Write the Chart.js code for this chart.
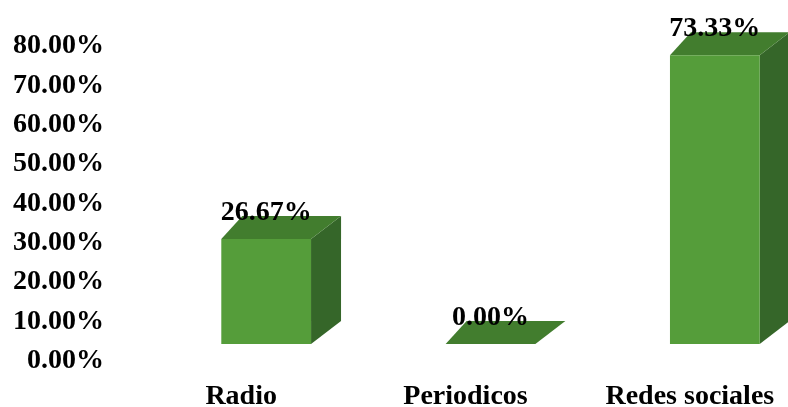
<!DOCTYPE html>
<html>
<head>
<meta charset="utf-8">
<script src="https://cdn.jsdelivr.net/npm/chart.js@4.4.0/dist/chart.umd.min.js"></script>
<style>
	html, body { margin: 0; padding: 0; background: #ffffff; }
	#wrap { width: 788px; height: 407px; }
</style>
</head>
<body>
<div id="wrap"><canvas id="graph1" width="788" height="407"></canvas></div>
<script>
var categories = ["Radio", "Periodicos", "Redes sociales"];
var porcentajes = [26.67, 0.00, 73.33];
var yTicks = [0, 10, 20, 30, 40, 50, 60, 70, 80];

var fuente = "'Liberation Serif', 'Times New Roman', serif";

// colores de las caras de la barra 3D
var frente = '#559d3a';
var arriba = '#427d2e';
var lado = '#356629';

// profundidad de la barra (el fondo se abre un poco hacia la derecha)
var profIzq = 21;
var profDer = 30;
var profY = 23;
var bajada = 17;

var barras3d = {
	id: 'barras3d',
	afterDatasetsDraw: function(chart) {
		var ctx = chart.ctx;
		var meta = chart.getDatasetMeta(0);
		var yScale = chart.scales.y;
		var shift = 39;

		meta.data.forEach(function(bar, i) {
			var v = porcentajes[i];
			var cx = bar.x + shift;
			var w = bar.width;
			var x0 = cx - w / 2;
			var x1 = cx + w / 2;
			var yb = yScale.getPixelForValue(0) - bajada;
			var yt = yScale.getPixelForValue(v) - bajada;

			ctx.save();
			// cara lateral
			ctx.fillStyle = lado;
			ctx.beginPath();
			ctx.moveTo(x1, yb);
			ctx.lineTo(x1 + profDer, yb - profY);
			ctx.lineTo(x1 + profDer, yt - profY);
			ctx.lineTo(x1, yt);
			ctx.closePath();
			ctx.fill();

			// cara superior
			ctx.fillStyle = arriba;
			ctx.beginPath();
			ctx.moveTo(x0, yt);
			ctx.lineTo(x0 + profIzq, yt - profY);
			ctx.lineTo(x1 + profDer, yt - profY);
			ctx.lineTo(x1, yt);
			ctx.closePath();
			ctx.fill();

			// cara frontal
			if (yb - yt > 0) {
				ctx.fillStyle = frente;
				ctx.fillRect(x0, yt, w, yb - yt);
			}

			// etiqueta de valor
			ctx.fillStyle = '#000000';
			ctx.font = 'bold 28px ' + fuente;
			ctx.textAlign = 'center';
			ctx.textBaseline = 'middle';
			ctx.fillText(v.toFixed(2) + '%', cx, yt - 26);
			ctx.restore();
		});
	}
};

function exec1()
{
	var ctx = document.getElementById('graph1').getContext('2d');
	var chart = new Chart(ctx, {
		type: 'bar',
		data: {
			labels: categories,
			datasets: [{
				label: "Porcentaje",
				data: porcentajes,
				backgroundColor: 'rgba(0,0,0,0)',
				borderWidth: 0,
				barPercentage: 0.4,
				categoryPercentage: 1
			}]
		},
		options: {
			responsive: false,
			animation: false,
			layout: {
				padding: { top: 46, left: 12, right: 0, bottom: 0 }
			},
			plugins: {
				legend: { display: false },
				tooltip: { enabled: false }
			},
			scales: {
				x: {
					afterFit: function(scale) { scale.height = 46; },
					grid: { display: false, drawTicks: false },
					border: { display: false },
					ticks: {
						color: '#000000',
						padding: 22,
						labelOffset: 14,
						maxRotation: 0,
						autoSkip: false,
						font: { family: fuente, size: 28, weight: 'bold', lineHeight: 1 }
					}
				},
				y: {
					min: yTicks[0],
					max: yTicks[yTicks.length - 1],
					afterBuildTicks: function(scale) {
						scale.ticks = yTicks.map(function(t) { return { value: t }; });
					},
					afterFit: function(scale) { scale.width = 103; },
					grid: { display: false, drawTicks: false },
					border: { display: false },
					ticks: {
						color: '#000000',
						padding: 11,
						font: { family: fuente, size: 28, weight: 'bold', lineHeight: 1 },
						callback: function(value) { return value.toFixed(2) + '%'; }
					}
				}
			}
		},
		plugins: [barras3d]
	});
}

exec1();
</script>
</body>
</html>
